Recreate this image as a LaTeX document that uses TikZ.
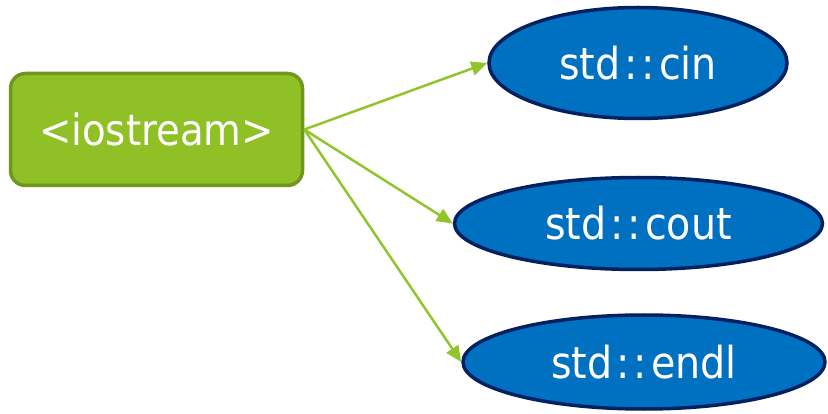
\documentclass[tikz,border=0pt]{standalone}
\usepackage{fontspec}
\setmainfont{DejaVu Sans Condensed}
\usetikzlibrary{shapes.geometric,arrows.meta}
\definecolor{boxgreen}{RGB}{143,193,38}
\definecolor{boxedge}{RGB}{112,150,30}
\definecolor{arrowgreen}{RGB}{146,196,44}
\definecolor{ellblue}{RGB}{0,112,192}
\definecolor{elledge}{RGB}{0,32,96}
\newcommand{\stdname}[1]{std\kern4pt:\kern4pt:\kern4pt#1}
\begin{document}
\begin{tikzpicture}[x=1pt,y=-1pt,
  hdrbox/.style={draw=boxedge,fill=boxgreen,line width=3.5pt,rounded corners=15pt,
    minimum width=292pt,minimum height=112pt,text=white,font=\fontsize{43}{48}\selectfont,inner sep=0pt},
  itemell/.style={ellipse,draw=elledge,fill=ellblue,line width=3.5pt,text=white,
    font=\fontsize{44}{48}\selectfont,inner sep=0pt},
  conn/.style={draw=arrowgreen,line width=2.5pt,-{Triangle[length=16pt,width=14pt]}}]
\useasboundingbox (0,0) rectangle (828,414);
\node[hdrbox] (hdr) at (156.5,129.5) {<iostream>};
\node[itemell,minimum width=298pt,minimum height=111pt] (cin) at (638,63) {\stdname{cin}};
\node[itemell,minimum width=368pt,minimum height=92pt] (cout) at (638.5,223.5) {\stdname{cout}};
\node[itemell,minimum width=362pt,minimum height=94pt] (endl) at (644,362) {\stdname{endl}};
\draw[conn] (hdr.east) -- (cin.west);
\draw[conn] (hdr.east) -- (cout.west);
\draw[conn] (hdr.east) -- (endl.west);
\end{tikzpicture}
\end{document}
